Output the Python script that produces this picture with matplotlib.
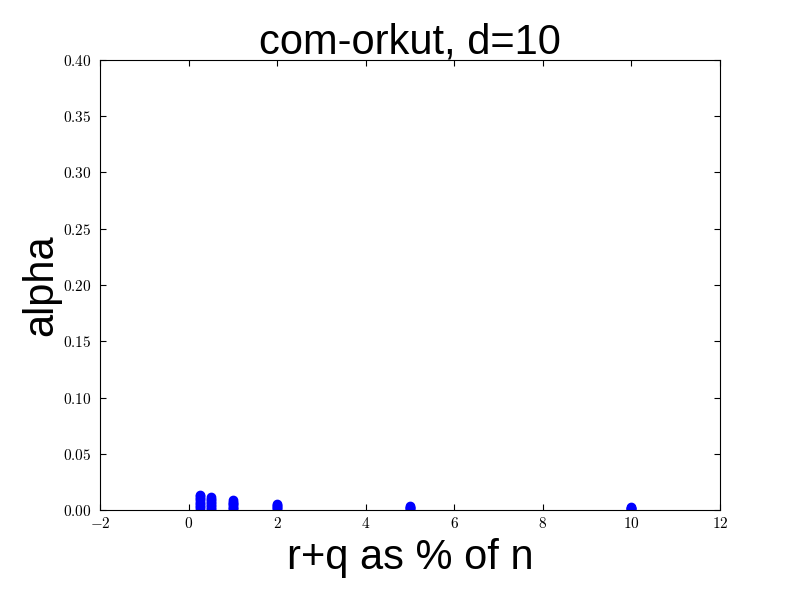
import matplotlib
matplotlib.use("Agg")
import matplotlib.pyplot as plt
from matplotlib.ticker import FuncFormatter

plt.rcParams['mathtext.fontset'] = 'cm'

# x: r+q as % of n ; alpha values observed at each x
x_025 = [0.0136, 0.0122, 0.0108, 0.0094, 0.0080, 0.0066, 0.0052, 0.0038, 0.0024, 0.0010]
x_05 = [0.0113, 0.0100, 0.0087, 0.0074, 0.0061, 0.0048, 0.0035, 0.0022, 0.0010]
x_1 = [0.0086, 0.0075, 0.0064, 0.0053, 0.0042, 0.0031, 0.0020, 0.0010]
x_2 = [0.0051, 0.0043, 0.0035, 0.0027, 0.0019, 0.0011]
x_5 = [0.0033, 0.0027, 0.0021, 0.0015, 0.0010]
x_10 = [0.0027, 0.0022, 0.0017, 0.0012, 0.0008]

xs_pct = [0.25, 0.5, 1, 2, 5, 10]
alphas = [x_025, x_05, x_1, x_2, x_5, x_10]

fig = plt.figure(figsize=(8, 6), dpi=100, facecolor='white')
ax = fig.add_axes([0.125, 0.15, 0.775, 0.75])

for xv, vals in zip(xs_pct, alphas):
    ax.plot([xv] * len(vals), vals, 'o', color='blue', markeredgecolor='blue',
            markersize=6, clip_on=True)

ax.set_xlim(-2, 12)
ax.set_ylim(0, 0.40)
ax.set_xticks(range(-2, 13, 2))
ax.set_yticks([i * 0.05 for i in range(9)])
ax.xaxis.set_major_formatter(FuncFormatter(lambda v, p: r'$%s$' % ('-' + str(int(abs(v))) if v < 0 else str(int(v)))))
ax.yaxis.set_major_formatter(FuncFormatter(lambda v, p: r'$%.2f$' % v))
ax.tick_params(direction='in', top=True, right=True, length=4, labelsize=11)
ax.tick_params(axis='y', pad=6)
ax.tick_params(axis='x', pad=4)

ax.set_title('com-orkut, d=10', fontsize=30, family='Liberation Sans', pad=5)
ax.set_xlabel('r+q as % of n', fontsize=30, family='Liberation Sans', labelpad=5)
ax.set_ylabel('alpha', fontsize=30, family='Liberation Sans', labelpad=1)

fig.savefig('out.png', dpi=100, facecolor='white')
